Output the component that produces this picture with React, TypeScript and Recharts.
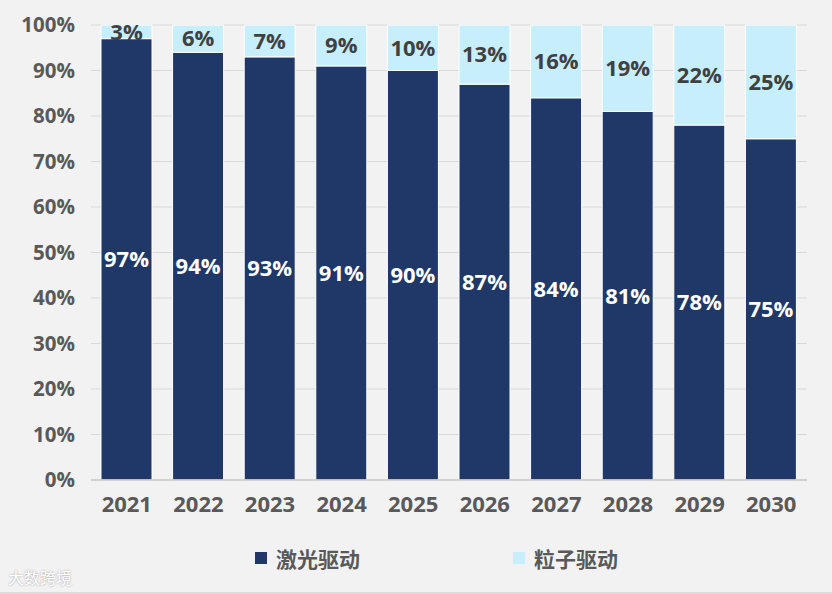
import React from "react";
import { BarChart, Bar, XAxis, YAxis, CartesianGrid, Legend, LabelList } from "recharts";

const years = ["2021", "2022", "2023", "2024", "2025", "2026", "2027", "2028", "2029", "2030"];
const laser = [97, 94, 93, 91, 90, 87, 84, 81, 78, 75];
const particle = [3, 6, 7, 9, 10, 13, 16, 19, 22, 25];
const yTicks = [0, 10, 20, 30, 40, 50, 60, 70, 80, 90, 100];

const data = years.map((y, i) => ({ year: y, laser: laser[i], particle: particle[i] }));

const FONT = "'Open Sans', 'Noto Sans CJK SC', sans-serif";
const DARK = "#1F3868";
const LIGHT = "#C6EEFB";
const TEXT = "#595959";

const legendPos = [255, 513];

const renderLegend = (props: any) => {
  const { payload } = props;
  return (
    <div style={{ position: "relative", width: 832, height: 30 }}>
      {payload.map((p: any, i: number) => (
        <div
          key={p.value}
          style={{
            position: "absolute",
            left: legendPos[i],
            top: 0,
            display: "flex",
            alignItems: "center",
            height: 30,
          }}
        >
          <span style={{ display: "inline-block", width: 12, height: 12, background: p.color, marginRight: 9 }} />
          <span style={{ fontFamily: FONT, fontWeight: 700, fontSize: 21, color: TEXT }}>{p.value}</span>
        </div>
      ))}
    </div>
  );
};

export default function App() {
  return (
    <div
      style={{
        position: "absolute",
        left: 0,
        top: 0,
        width: 832,
        height: 594,
        background: "#F2F2F2",
        boxSizing: "border-box",
        borderBottom: "2px solid #DCDCDC",
        overflow: "hidden",
      }}
    >
      <BarChart
        width={832}
        height={594}
        data={data}
        margin={{ top: 25, right: 25, bottom: 54, left: 0 }}
        barSize={51}
      >
        <CartesianGrid vertical={false} stroke="#D9D9D9" />
        <XAxis
          dataKey="year"
          tickLine={false}
          tickSize={0}
          tickMargin={16}
          axisLine={{ stroke: "#C8C8C8", strokeWidth: 1.5 }}
          tick={{ fill: TEXT, fontSize: 22, fontWeight: 700, fontFamily: FONT }}
          interval={0}
        />
        <YAxis
          width={91}
          domain={[0, 100]}
          ticks={yTicks}
          tickFormatter={(v: number) => `${v}%`}
          tickLine={false}
          tickSize={0}
          tickMargin={16}
          axisLine={false}
          tick={{ fill: TEXT, fontSize: 20.5, fontWeight: 700, fontFamily: FONT }}
          interval={0}
        />
        <Legend
          verticalAlign="bottom"
          content={renderLegend}
          wrapperStyle={{ position: "absolute", left: 0, top: 543, width: 832 }}
        />
        <Bar dataKey="laser" name="激光驱动" stackId="a" fill={DARK} stroke="#FFFFFF" strokeWidth={1} isAnimationActive={false}>
          <LabelList
            dataKey="laser"
            position="center"
            formatter={(v: any) => `${v}%`}
            fill="#FFFFFF"
            style={{ fontSize: 22, fontWeight: 700, fontFamily: FONT }}
          />
        </Bar>
        <Bar dataKey="particle" name="粒子驱动" stackId="a" fill={LIGHT} stroke="#FFFFFF" strokeWidth={1} isAnimationActive={false}>
          <LabelList
            dataKey="particle"
            position="center"
            formatter={(v: any) => `${v}%`}
            fill="#404040"
            style={{ fontSize: 22, fontWeight: 700, fontFamily: FONT }}
          />
        </Bar>
      </BarChart>
      <div
        style={{
          position: "absolute",
          left: 8,
          top: 565,
          fontFamily: FONT,
          fontSize: 16,
          color: "#FFFFFF",
          textShadow: "0 0 2px #999",
        }}
      >
        大数跨境
      </div>
    </div>
  );
}
